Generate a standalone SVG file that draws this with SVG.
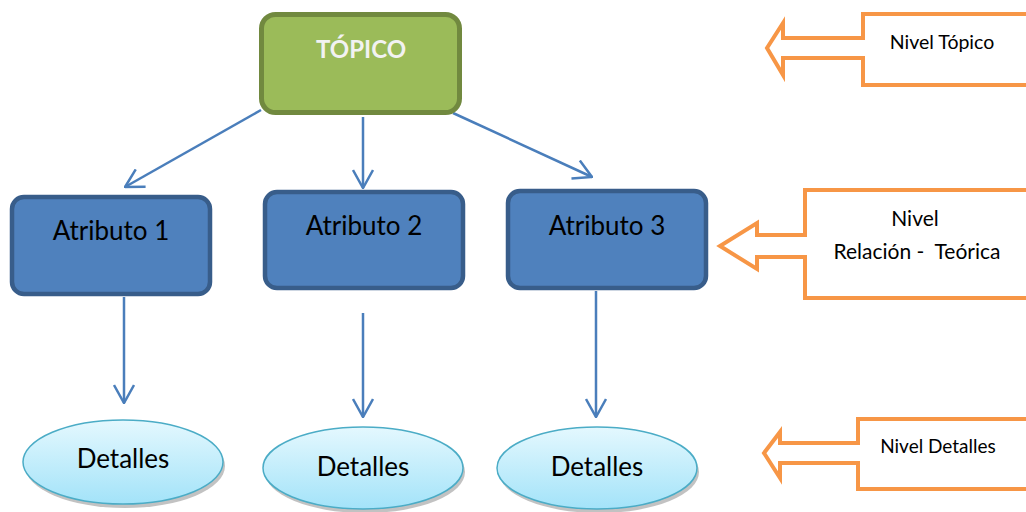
<svg xmlns="http://www.w3.org/2000/svg" width="1026" height="512" viewBox="0 0 1026 512">
<defs>
<style>
.attr{fill:#4f81bd;stroke:#385d8a;stroke-width:4.5}
.topic{fill:#9bbb59;stroke:#71893f;stroke-width:5}
.det{fill:url(#dg);stroke:#4bacc6;stroke-width:1.5}
.shadow{fill:#9a9a9a;opacity:0.6}
.conn{stroke:#4a7ebb;stroke-width:2.5;fill:none;marker-end:url(#arr)}
.callout{fill:#ffffff;stroke:#f79646;stroke-width:4;stroke-linejoin:miter}
.t{font-family:Lato,"Open Sans","Liberation Sans",sans-serif;fill:#000000;text-anchor:middle;white-space:pre}
</style>
<linearGradient id="dg" x1="0" y1="0" x2="0" y2="1">
<stop offset="0" stop-color="#e4f8fe"/>
<stop offset="1" stop-color="#a3e3f9"/>
</linearGradient>
<marker id="arr" viewBox="0 0 20 22" refX="19" refY="11" markerWidth="20" markerHeight="22" markerUnits="userSpaceOnUse" orient="auto">
<path d="M1,1 L19,11 L1,21" fill="none" stroke="#4a7ebb" stroke-width="2.5"/>
</marker>
</defs>
<rect width="1026" height="512" fill="#ffffff"/>
<g id="connectors">
<line class="conn" x1="261" y1="110" x2="125" y2="187"/>
<line class="conn" x1="363" y1="117" x2="363" y2="188"/>
<line class="conn" x1="453" y1="113" x2="592" y2="177"/>
<line class="conn" x1="124" y1="297" x2="124" y2="403"/>
<line class="conn" x1="363" y1="313" x2="363" y2="417"/>
<line class="conn" x1="596" y1="291" x2="596" y2="417"/>
</g>
<g id="topico">
<rect class="topic" x="261.5" y="14.5" width="198" height="98" rx="14"/>
<text class="t" x="361" y="58" font-size="24" font-weight="bold" style="fill:#f2f2f2">TÓPICO</text>
</g>
<g id="atributo1">
<rect class="attr" x="12" y="197" width="198" height="97" rx="12"/>
<text class="t" x="111" y="240" font-size="26">Atributo 1</text>
</g>
<g id="atributo2">
<rect class="attr" x="265" y="192" width="198" height="96" rx="12"/>
<text class="t" x="364" y="235" font-size="26">Atributo 2</text>
</g>
<g id="atributo3">
<rect class="attr" x="508" y="191" width="198" height="97" rx="12"/>
<text class="t" x="607" y="235" font-size="26">Atributo 3</text>
</g>
<g id="detalles1">
<ellipse class="shadow" cx="125" cy="466" rx="100" ry="42"/>
<ellipse class="det" cx="123" cy="462" rx="100" ry="42"/>
<text class="t" x="123" y="468" font-size="26">Detalles</text>
</g>
<g id="detalles2">
<ellipse class="shadow" cx="365" cy="472" rx="100" ry="41"/>
<ellipse class="det" cx="363" cy="468" rx="100" ry="41"/>
<text class="t" x="363" y="476" font-size="26">Detalles</text>
</g>
<g id="detalles3">
<ellipse class="shadow" cx="599" cy="472" rx="100" ry="41"/>
<ellipse class="det" cx="597" cy="468" rx="100" ry="41"/>
<text class="t" x="597" y="476" font-size="26">Detalles</text>
</g>
<g id="nivel-topico">
<path class="callout" d="M863,14 L1030,14 L1030,85 L863,85 L863,58 L783,58 L783,75 L767,48 L783,23 L783,38 L863,38 Z"/>
<text class="t" x="942" y="49" font-size="19.5">Nivel Tópico</text>
</g>
<g id="nivel-relacion">
<path class="callout" d="M805,190 L1030,190 L1030,298 L805,298 L805,257 L757,257 L757,269 L720,246 L757,223 L757,235 L805,235 Z"/>
<text class="t" x="915" y="226" font-size="21">Nivel</text>
<text class="t" x="917" y="259" font-size="21">Relación -  Teórica</text>
</g>
<g id="nivel-detalles">
<path class="callout" d="M858,419 L1030,419 L1030,489 L858,489 L858,463 L780,463 L780,478 L764,453 L780,432 L780,443 L858,443 Z"/>
<text class="t" x="938" y="453" font-size="19">Nivel Detalles</text>
</g>
</svg>
